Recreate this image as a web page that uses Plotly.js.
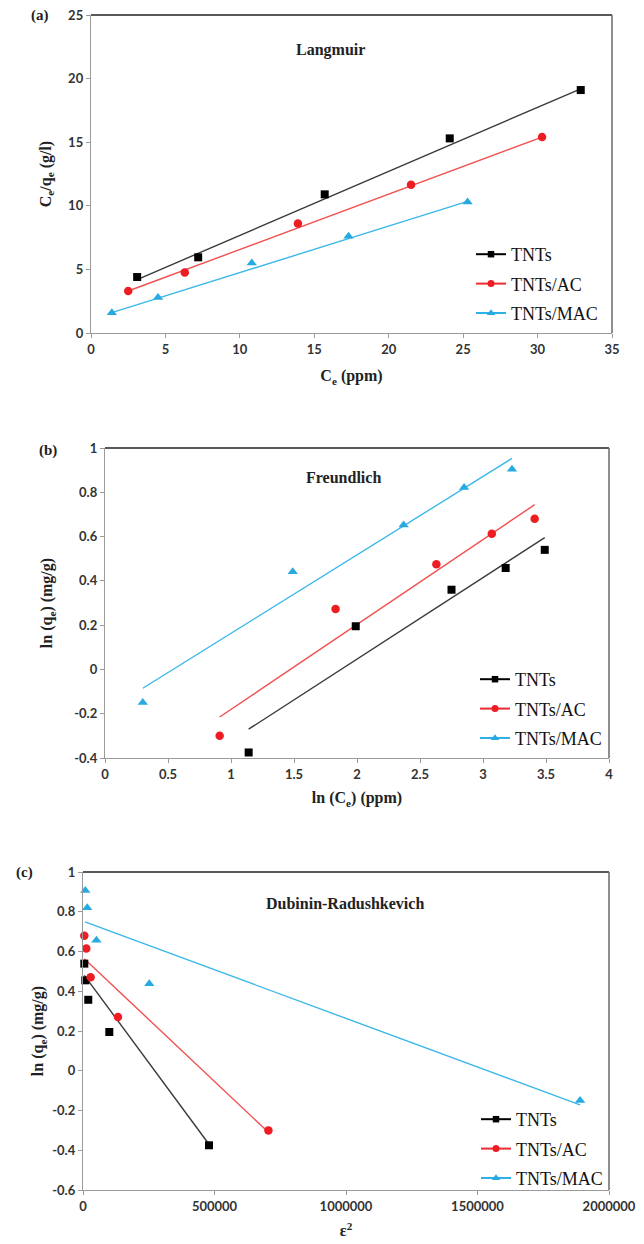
<!DOCTYPE html>
<html>
<head>
<meta charset="utf-8">
<script src="https://cdn.plot.ly/plotly-3.0.1.min.js"></script>
<style>html,body{margin:0;padding:0;background:#fff;}#chart{width:644px;height:1244px;}</style>
</head>
<body>
<div id="chart"></div>
<script>
// ---------- Data ----------
const seriesNames = ["TNTs", "TNTs/AC", "TNTs/MAC"];

// (a) Langmuir: Ce (ppm) vs Ce/qe (g/l)
const langX_TNTs = [3.1, 7.2, 15.7, 24.1, 32.9];
const langY_TNTs = [4.4, 5.95, 10.9, 15.3, 19.1];
const langX_AC = [2.5, 6.3, 13.9, 21.5, 30.3];
const langY_AC = [3.3, 4.75, 8.6, 11.65, 15.4];
const langX_MAC = [1.4, 4.5, 10.8, 17.3, 25.3];
const langY_MAC = [1.6, 2.8, 5.5, 7.6, 10.3];
const langFitX_TNTs = [3.1, 32.9], langFitY_TNTs = [4.2, 19.2];
const langFitX_AC = [2.5, 30.3], langFitY_AC = [3.3, 15.4];
const langFitX_MAC = [1.4, 25.3], langFitY_MAC = [1.6, 10.35];

// (b) Freundlich: ln(Ce) vs ln(qe)
const frX_TNTs = [1.14, 1.99, 2.75, 3.18, 3.49];
const frY_TNTs = [-0.375, 0.195, 0.36, 0.458, 0.54];
const frX_AC = [0.91, 1.83, 2.63, 3.07, 3.41];
const frY_AC = [-0.30, 0.273, 0.475, 0.613, 0.68];
const frX_MAC = [0.30, 1.49, 2.37, 2.85, 3.23];
const frY_MAC = [-0.149, 0.441, 0.652, 0.822, 0.904];
const frFitX_TNTs = [1.14, 3.49], frFitY_TNTs = [-0.27, 0.595];
const frFitX_AC = [0.91, 3.41], frFitY_AC = [-0.215, 0.744];
const frFitX_MAC = [0.30, 3.23], frFitY_MAC = [-0.085, 0.953];

// (c) Dubinin-Radushkevich: eps^2 vs ln(qe)
const drX_TNTs = [5000, 8800, 20000, 100000, 479000];
const drY_TNTs = [0.539, 0.455, 0.357, 0.195, -0.375];
const drX_AC = [5000, 12500, 29000, 133000, 705000];
const drY_AC = [0.679, 0.615, 0.47, 0.27, -0.30];
const drX_MAC = [8800, 16000, 51000, 252000, 1890000];
const drY_MAC = [0.907, 0.82, 0.657, 0.438, -0.15];
const drFitX_TNTs = [5000, 479000], drFitY_TNTs = [0.48, -0.37];
const drFitX_AC = [5000, 705000], drFitY_AC = [0.564, -0.31];
const drFitX_MAC = [7600, 1890000], drFitY_MAC = [0.749, -0.172];

// Tick labels
const aXTicks = [0, 5, 10, 15, 20, 25, 30, 35];
const aYTicks = [0, 5, 10, 15, 20, 25];
const bXTicks = [0, 0.5, 1, 1.5, 2, 2.5, 3, 3.5, 4];
const bXText = ["0", "0.5", "1", "1.5", "2", "2.5", "3", "3.5", "4"];
const bYTicks = [-0.4, -0.2, 0, 0.2, 0.4, 0.6, 0.8, 1];
const bYText = ["-0.4", "-0.2", "0", "0.2", "0.4", "0.6", "0.8", "1"];
const cXTicks = [0, 500000, 1000000, 1500000, 2000000];
const cXText = ["0", "500000", "1000000", "1500000", "2000000"];
const cYTicks = [-0.6, -0.4, -0.2, 0, 0.2, 0.4, 0.6, 0.8, 1];
const cYText = ["-0.6", "-0.4", "-0.2", "0", "0.2", "0.4", "0.6", "0.8", "1"];

// ---------- Styles ----------
const markerColors = ["#000000", "#EE1D23", "#27AAE1"];
const lineColors = ["#3a3a3a", "#F25050", "#3CB8E8"];
const legLineColors = ["#000000", "#EE2A2F", "#2FB0E6"];
const symbols = ["square", "circle", "triangle-up"];
const msize = [8, 8.5, 9];
const legMsize = [6.5, 7, 7.5];

const W = 644, H = 1244;
const px = v => v / W;
const py = v => 1 - v / H;

const traces = [];
function addPanel(xa, ya, legendId, pts, fits) {
  for (let i = 0; i < 3; i++) {
    traces.push({
      x: fits[i][0], y: fits[i][1], xaxis: xa, yaxis: ya, mode: "lines",
      line: {color: lineColors[i], width: 1.4}, showlegend: false, hoverinfo: "skip"
    });
  }
  for (let i = 0; i < 3; i++) {
    traces.push({
      x: pts[i][0], y: pts[i][1], xaxis: xa, yaxis: ya, mode: "markers",
      marker: {color: markerColors[i], symbol: symbols[i], size: msize[i]},
      showlegend: false, cliponaxis: false
    });
  }
  for (let i = 0; i < 3; i++) {
    traces.push({
      x: [null], y: [null], xaxis: xa, yaxis: ya, mode: "lines+markers",
      name: seriesNames[i], legend: legendId, legendgroup: legendId + "_" + i,
      line: {color: legLineColors[i], width: 2},
      marker: {color: markerColors[i], symbol: symbols[i], size: legMsize[i]}
    });
  }
}
addPanel("x", "y", "legend",
  [[langX_TNTs, langY_TNTs], [langX_AC, langY_AC], [langX_MAC, langY_MAC]],
  [[langFitX_TNTs, langFitY_TNTs], [langFitX_AC, langFitY_AC], [langFitX_MAC, langFitY_MAC]]);
addPanel("x2", "y2", "legend2",
  [[frX_TNTs, frY_TNTs], [frX_AC, frY_AC], [frX_MAC, frY_MAC]],
  [[frFitX_TNTs, frFitY_TNTs], [frFitX_AC, frFitY_AC], [frFitX_MAC, frFitY_MAC]]);
addPanel("x3", "y3", "legend3",
  [[drX_TNTs, drY_TNTs], [drX_AC, drY_AC], [drX_MAC, drY_MAC]],
  [[drFitX_TNTs, drFitY_TNTs], [drFitX_AC, drFitY_AC], [drFitX_MAC, drFitY_MAC]]);

const tickFont = {family: "Lato, 'Liberation Sans', sans-serif", size: 13, weight: "bold", color: "#333"};
const titleFont = {family: "'Liberation Serif', 'Times New Roman', serif", size: 16, weight: "bold", color: "#222"};
const legFont = {family: "'Liberation Serif', 'Times New Roman', serif", size: 18, color: "#111"};

function axis(domain, range, tickvals, ticktext, anchor, title, standoff) {
  const a = {
    domain: domain, range: range, anchor: anchor, tickmode: "array", tickvals: tickvals,
    showgrid: false, zeroline: false, showline: true, linecolor: "#9a9a9a", linewidth: 1.2,
    ticks: "outside", ticklen: 4, tickcolor: "#9a9a9a", tickwidth: 1,
    tickfont: tickFont, title: {text: title, font: titleFont, standoff: standoff}
  };
  if (ticktext) a.ticktext = ticktext;
  return a;
}

const dA = {x: [px(91), px(612)], y: [py(333), py(15)]};
const dB = {x: [px(105), px(609)], y: [py(758), py(448)]};
const dC = {x: [px(83), px(609)], y: [py(1190), py(872)]};

function borders(xa, ya) {
  return [
    {type: "line", xref: xa + " domain", yref: ya + " domain", x0: 0, x1: 1, y0: 1, y1: 1, line: {color: "#222", width: 1.5}},
    {type: "line", xref: xa + " domain", yref: ya + " domain", x0: 1, x1: 1, y0: 0, y1: 1, line: {color: "#6a6a6a", width: 1.5}}
  ];
}

function legend(xpx, ypx) {
  return {x: px(xpx), y: py(ypx), xanchor: "left", yanchor: "top", font: legFont,
    bgcolor: "rgba(0,0,0,0)", borderwidth: 0, tracegroupgap: 3, traceorder: "grouped"};
}

const ann = (text, xpx, ypx, size, xanchor) => ({
  text: text, xref: "paper", yref: "paper", x: px(xpx), y: py(ypx), showarrow: false,
  xanchor: xanchor || "center", yanchor: "middle",
  font: {family: "'Liberation Serif', 'Times New Roman', serif", size: size, weight: "bold", color: "#222"}
});

const layout = {
  width: W, height: H, autosize: false,
  margin: {l: 0, r: 0, t: 0, b: 0},
  paper_bgcolor: "#fff", plot_bgcolor: "#fff",
  showlegend: true,
  xaxis: axis(dA.x, [0, 35], aXTicks, null, "y", "C<sub>e</sub> (ppm)", 14),
  yaxis: axis(dA.y, [0, 25], aYTicks, null, "x", "C<sub>e</sub>/q<sub>e</sub> (g/l)", 12),
  xaxis2: axis(dB.x, [0, 4], bXTicks, bXText, "y2", "ln (C<sub>e</sub>) (ppm)", 11),
  yaxis2: axis(dB.y, [-0.4, 1], bYTicks, bYText, "x2", "ln (q<sub>e</sub>) (mg/g)", 17),
  xaxis3: axis(dC.x, [0, 2000000], cXTicks, cXText, "y3", "ε<sup>2</sup>", 12),
  yaxis3: axis(dC.y, [-0.6, 1], cYTicks, cYText, "x3", "ln (q<sub>e</sub>) (mg/g)", 4),
  legend: legend(471, 236),
  legend2: legend(475, 661),
  legend3: legend(476, 1101),
  shapes: [].concat(borders("x", "y"), borders("x2", "y2"), borders("x3", "y3")),
  annotations: [
    ann("(a)", 40, 16, 15),
    ann("(b)", 48, 450, 15),
    ann("(c)", 24, 872, 15),
    ann("Langmuir", 330, 50, 16),
    ann("Freundlich", 343, 477, 16),
    ann("Dubinin-Radushkevich", 345, 903, 16)
  ]
};

Plotly.newPlot("chart", traces, layout, {staticPlot: true, displayModeBar: false});
</script>
</body>
</html>
